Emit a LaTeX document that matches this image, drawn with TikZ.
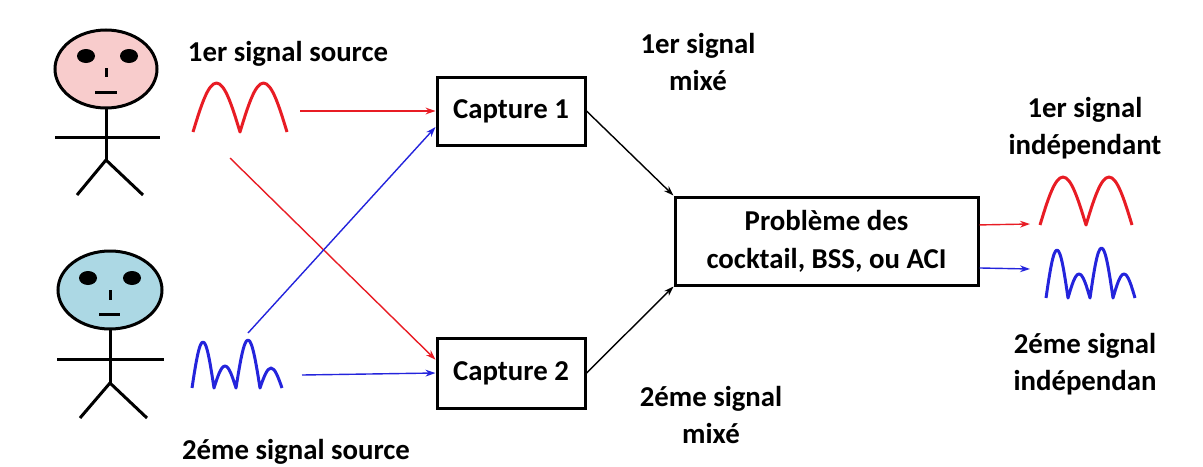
\documentclass[tikz,border=0pt]{standalone}
\usepackage{fontspec}
\setmainfont{Carlito}
\usetikzlibrary{arrows.meta}
\definecolor{facepink}{RGB}{248,204,204}
\definecolor{faceblue}{RGB}{172,216,228}
\definecolor{sigred}{RGB}{232,28,36}
\definecolor{sigblue}{RGB}{36,36,220}

\begin{document}
\begin{tikzpicture}[
  x=0.5pt, y=-0.5pt,
  box/.style={draw,line width=1.5pt,inner sep=0pt,font=\bfseries\fontsize{14.4}{19}\selectfont},
  lbl/.style={align=center,font=\bfseries\fontsize{14.4}{18.5}\selectfont},
  body/.style={line width=1.5pt},
  wave/.style={line width=1.5pt,line join=round},
  feed/.style={-{Stealth[length=5pt,width=3.4pt]},line width=0.7pt}
]
  \useasboundingbox (0,0) rectangle (1203,466);

  % first speaker
  \draw[body,fill=facepink] (106,69) ellipse [x radius=51, y radius=39];
  \fill (86,56) ellipse [x radius=9, y radius=7];
  \fill (129,56) ellipse [x radius=9, y radius=7];
  \draw[body] (106,68) -- (106,77);
  \draw[body] (95,92) -- (117,92);
  \draw[body] (106,108) -- (106,160);
  \draw[body] (55,137) -- (160,137);
  \draw[body] (77,195) -- (106,160) -- (143,195);

  % second speaker
  \draw[body,fill=faceblue] (110,290) ellipse [x radius=52, y radius=39];
  \fill (88,278) ellipse [x radius=9, y radius=7];
  \fill (132,278) ellipse [x radius=9, y radius=7];
  \draw[body] (110,290) -- (110,300);
  \draw[body] (99,314) -- (120,314);
  \draw[body] (110,329) -- (110,383);
  \draw[body] (57,359) -- (164,359);
  \draw[body] (80,418) -- (110,383) -- (147,418);

  % source waveforms
  \draw[wave,sigred] (193,132) sin (216.5,83) cos (240,132) sin (263.5,83) cos (287,132);
  \draw[wave,sigblue] (192,388) sin (203,342) cos (214,388) sin (225,366) cos (236,388)
    sin (248,340) cos (260,388) sin (271,368) cos (282,388);

  % separated waveforms
  \draw[wave,sigred] (1040,225) sin (1063,177) cos (1086,225) sin (1109,177) cos (1132,225);
  \draw[wave,sigblue] (1046,298) sin (1057,250) cos (1068,298) sin (1079,274) cos (1090,298)
    sin (1101.5,248) cos (1113,298) sin (1124,274) cos (1135,298);

  \coordinate (srcA) at (300,111);
  \coordinate (srcAx) at (230,158);
  \coordinate (srcBx) at (248,333);
  \coordinate (srcB) at (302,375);
  \coordinate (outA) at (1030,224);
  \coordinate (outB) at (1030,269);

  \node[box,minimum width=74pt,minimum height=34pt] (capA) at (511,111) {Capture 1};
  \node[box,minimum width=74pt,minimum height=35pt] (capB) at (511,373) {Capture 2};
  \node[box,align=center,minimum width=151.5pt,minimum height=44pt] (bss) at (826.5,241)
    {Problème des\\cocktail, BSS, ou ACI};

  \node[lbl] (srcAtxt) at (288,54) {1er signal source};
  \node[lbl] (srcBtxt) at (296,452) {2éme signal source};
  \node[lbl] (mixA) at (698,62) {1er signal\\mixé};
  \node[lbl] (mixB) at (711,415) {2éme signal\\mixé};
  \node[lbl] (outAtxt) at (1085,128) {1er signal\\indépendant};
  \node[lbl] (outBtxt) at (1085,364) {2éme signal\\indépendan};

  \draw[feed,sigred] (srcA) -- (capA.west);
  \draw[feed,sigred] (srcAx) -- (capB.170);
  \draw[feed,sigblue] (srcBx) -- (capA.192);
  \draw[feed,sigblue] (srcB) -- (capB.west);
  \draw[feed] (capA.east) -- (bss.north west);
  \draw[feed] (capB.east) -- (bss.south west);
  \draw[feed,sigred] (bss.6) -- (outA);
  \draw[feed,sigblue] (bss.-10) -- (outB);
\end{tikzpicture}
\end{document}
